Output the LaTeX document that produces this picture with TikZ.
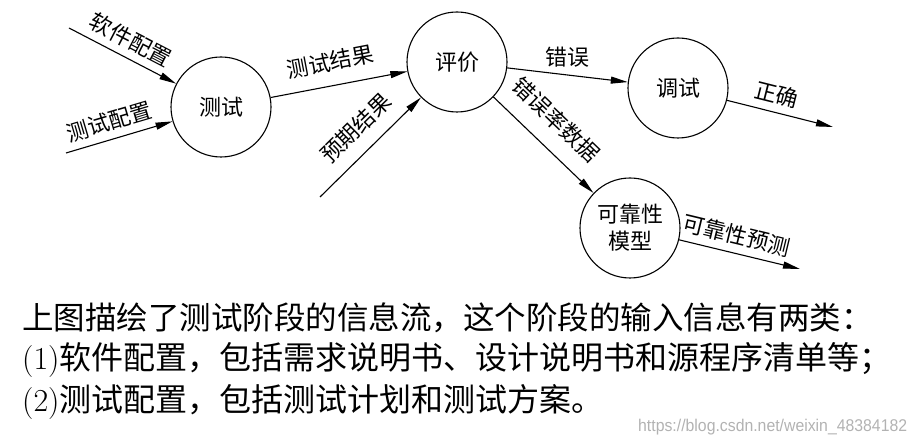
\documentclass[tikz,border=0pt]{standalone}
\usepackage{fontspec}
\newfontfamily\cjk{Noto Sans CJK SC}
\newfontfamily\wmfont{Liberation Sans}[FakeStretch=0.93]
\usetikzlibrary{arrows.meta}
\tikzset{
	proc/.style={circle, draw, line width=1.1pt, minimum size=100pt, inner sep=0pt, align=center, font=\cjk\fontsize{22}{27}\selectfont},
	flow/.style={line width=1.1pt, -{Triangle[length=17pt,width=7pt]}},
	lbl/.style={font=\cjk\fontsize{22}{27}\selectfont, sloped, above=4pt},
	para/.style={anchor=base west, inner sep=0pt, font=\cjk\fontsize{31.5}{38}\selectfont}
}

\begin{document}
\begin{tikzpicture}[x=1pt, y=1pt]
		%%%%% START %%%%%
		\useasboundingbox (0, 0) rectangle (919, 446);
		
		\node[proc] (test) at (221, 339) {测试};
		\node[proc] (eval) at (457, 384) {评价};
		\node[proc] (debug) at (678, 358) {调试};
		\node[proc] (model) at (630, 218) {可靠性\\模型};
		
		\coordinate (swin) at (69, 418);
		\coordinate (tcin) at (66, 293);
		\coordinate (expin) at (320, 249);
		\coordinate (okout) at (833, 319);
		\coordinate (predout) at (800, 177);
		
		\draw[flow] (swin) -- node[lbl] {软件配置} (test);
		\draw[flow] (tcin) -- node[lbl, pos=0.45] {测试配置} (test);
		\draw[flow] (test) -- node[lbl, pos=0.47, above=6pt] {测试结果} (eval);
		\draw[flow] (expin) -- node[lbl, pos=0.52, above=6pt] {预期结果} (eval);
		
		\draw[flow] (eval) -- node[font=\cjk\fontsize{22}{27}\selectfont, above=4pt] {错误} (debug);
		\draw[flow] (eval) -- node[lbl, pos=0.44, above=9pt] {错误率数据} (model);
		\draw[flow] (debug) -- node[lbl, pos=0.43] {正确} (okout);
		\draw[flow] (model) -- node[lbl, pos=0.44] {可靠性预测} (predout);
		
		\node[para] (line1) at (22, 116) {上图描绘了测试阶段的信息流，这个阶段的输入信息有两类：};
		\node[para, font=\cjk\fontsize{32}{40}\selectfont] (line2) at (22, 76) {\textrm{(1)}软件配置，包括需求说明书、设计说明书和源程序清单等；};
		\node[para, font=\cjk\fontsize{32}{40}\selectfont] (line3) at (22, 34) {\textrm{(2)}测试配置，包括测试计划和测试方案。};
		
		\node[anchor=base west, inner sep=0pt, text=black!30, font=\wmfont\fontsize{17}{20}\selectfont] (mark) at (638, 14) {https://blog.csdn.net/weixin\_48384182};
		%%%%% END %%%%%
\end{tikzpicture}
\end{document}
